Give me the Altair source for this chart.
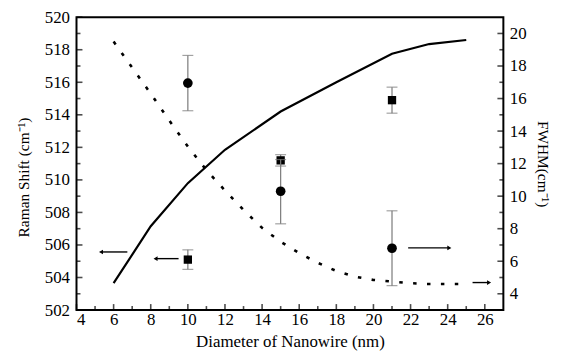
import altair as alt
import pandas as pd

# ---- data ----
x_solid = [6, 8, 10, 12, 15, 18, 21, 23, 25]
raman_solid = [503.65, 507.15, 509.8, 511.85, 514.2, 516.0, 517.75, 518.35, 518.6]

x_dash = [6, 7, 8, 9, 10, 11, 12, 13, 14, 15, 16, 17, 18, 19, 20, 21, 22, 23, 24, 25]
fwhm_dash = [19.5, 17.9, 16.3, 14.65, 13.05, 11.6, 10.35, 9.15, 8.05, 7.2,
             6.5, 5.9, 5.4, 5.05, 4.85, 4.75, 4.65, 4.6, 4.6, 4.6]

x_pts = [10, 15, 21]
raman_pts = [505.1, 511.2, 514.9]
raman_lo = [504.5, 510.85, 514.1]
raman_hi = [505.7, 511.55, 515.7]

fwhm_pts = [16.95, 10.3, 6.8]
fwhm_lo = [15.25, 8.3, 4.5]
fwhm_hi = [18.65, 12.25, 9.1]

# annotation arrows (data coordinates): start, head, level
left_arrow_from = [6.74, 9.5]
left_arrow_to = [5.32, 8.26]
left_arrow_y = [505.57, 505.16]
right_arrow_from = [21.87, 25.34]
right_arrow_to = [24.09, 26.23]
right_arrow_y = [6.82, 4.69]

x_ticks = list(range(4, 27, 2))
x_minor = list(range(5, 27, 2))
left_ticks = list(range(502, 521, 2))
left_minor = list(range(503, 520, 2))
right_ticks = list(range(4, 21, 2))
right_minor = list(range(5, 21, 2))

W, H = 430, 295
FONT = "Liberation Serif"

xscale = alt.Scale(domain=[4, 27], nice=False, zero=False)
lscale = alt.Scale(domain=[502, 520], nice=False, zero=False)
rscale = alt.Scale(domain=[3, 21], nice=False, zero=False)

x_axis = alt.Axis(values=x_ticks, title="Diameter of Nanowire (nm)", ticks=False,
                  domain=False, grid=False, labelPadding=2,
                  titleY=37, titleBaseline="alphabetic", titleFontSize=17,
                  labelFont=FONT, titleFont=FONT)
l_axis = alt.Axis(orient="left", values=left_ticks, title="Raman Shift (cm⁻¹)",
                  ticks=False, domain=False, grid=False, labelPadding=7,
                  titleX=-45, titleY=161, titleFontSize=15.5,
                  labelFont=FONT, titleFont=FONT)
r_axis = alt.Axis(orient="right", values=right_ticks, title="FWHM(cm⁻¹)",
                  ticks=False, domain=False, grid=False, labelPadding=6,
                  titleX=31, titleFontSize=15.5,
                  labelFont=FONT, titleFont=FONT)


def X(f):
    return alt.X(f, type="quantitative", scale=xscale, axis=x_axis)


def YL(f):
    return alt.Y(f, type="quantitative", scale=lscale, axis=l_axis)


def YR(f):
    return alt.Y(f, type="quantitative", scale=rscale, axis=r_axis)


solid_df = pd.DataFrame({"x": x_solid, "y": raman_solid})
dash_df = pd.DataFrame({"x": x_dash, "y": fwhm_dash})
sq_df = pd.DataFrame({"x": x_pts, "y": raman_pts, "lo": raman_lo, "hi": raman_hi})
ci_df = pd.DataFrame({"x": x_pts, "y": fwhm_pts, "lo": fwhm_lo, "hi": fwhm_hi})
la_df = pd.DataFrame({"x": left_arrow_from, "x2": left_arrow_to, "y": left_arrow_y})
ra_df = pd.DataFrame({"x": right_arrow_from, "x2": right_arrow_to, "y": right_arrow_y})

ERR = "#7a7a7a"

# ---- left (Raman shift) group ----
solid = alt.Chart(solid_df).mark_line(color="black", strokeWidth=2.2).encode(x=X("x"), y=YL("y"))
sq_bar = alt.Chart(sq_df).mark_rule(color=ERR, strokeWidth=1.2).encode(x=X("x"), y=YL("lo"), y2="hi")
sq_cap_lo = alt.Chart(sq_df).mark_tick(color=ERR, orient="horizontal", size=11, thickness=1.2).encode(x=X("x"), y=YL("lo"))
sq_cap_hi = alt.Chart(sq_df).mark_tick(color=ERR, orient="horizontal", size=11, thickness=1.2).encode(x=X("x"), y=YL("hi"))
squares = alt.Chart(sq_df).mark_point(shape="square", filled=True, color="black", size=70, opacity=1).encode(x=X("x"), y=YL("y"))
la_line = alt.Chart(la_df).mark_rule(color="black", strokeWidth=1.4).encode(x=X("x"), x2="x2", y=YL("y"))
la_head = alt.Chart(la_df).mark_point(shape="triangle-left", filled=True, color="black", size=22, opacity=1).encode(x=X("x2"), y=YL("y"))
lt_major = alt.Chart(pd.DataFrame({"t": left_ticks})).mark_tick(color="black", orient="horizontal", size=6, thickness=1.6).encode(y=YL("t"), x=alt.value(3))
lt_minor = alt.Chart(pd.DataFrame({"t": left_minor})).mark_tick(color="black", orient="horizontal", size=4, thickness=1.6).encode(y=YL("t"), x=alt.value(2))
bt_major = alt.Chart(pd.DataFrame({"t": x_ticks})).mark_tick(color="black", orient="vertical", size=6, thickness=1.6).encode(x=X("t"), y=alt.value(H - 3))
bt_minor = alt.Chart(pd.DataFrame({"t": x_minor})).mark_tick(color="black", orient="vertical", size=4, thickness=1.6).encode(x=X("t"), y=alt.value(H - 2))

left_group = alt.layer(solid, sq_bar, sq_cap_lo, sq_cap_hi, squares, la_line, la_head,
                       lt_major, lt_minor, bt_major, bt_minor)

# ---- right (FWHM) group ----
dash = alt.Chart(dash_df).mark_line(color="black", strokeWidth=2.6, strokeDash=[3.5, 10.5]).encode(x=X("x"), y=YR("y"))
ci_bar = alt.Chart(ci_df).mark_rule(color=ERR, strokeWidth=1.2).encode(x=X("x"), y=YR("lo"), y2="hi")
ci_cap_lo = alt.Chart(ci_df).mark_tick(color=ERR, orient="horizontal", size=11, thickness=1.2).encode(x=X("x"), y=YR("lo"))
ci_cap_hi = alt.Chart(ci_df).mark_tick(color=ERR, orient="horizontal", size=11, thickness=1.2).encode(x=X("x"), y=YR("hi"))
circles = alt.Chart(ci_df).mark_point(shape="circle", filled=True, color="black", size=95, opacity=1).encode(x=X("x"), y=YR("y"))
ra_line = alt.Chart(ra_df).mark_rule(color="black", strokeWidth=1.4).encode(x=X("x"), x2="x2", y=YR("y"))
ra_head = alt.Chart(ra_df).mark_point(shape="triangle-right", filled=True, color="black", size=22, opacity=1).encode(x=X("x2"), y=YR("y"))
rt_major = alt.Chart(pd.DataFrame({"t": right_ticks})).mark_tick(color="black", orient="horizontal", size=6, thickness=1.6).encode(y=YR("t"), x=alt.value(W - 3))
rt_minor = alt.Chart(pd.DataFrame({"t": right_minor})).mark_tick(color="black", orient="horizontal", size=4, thickness=1.6).encode(y=YR("t"), x=alt.value(W - 2))

right_group = alt.layer(dash, ci_bar, ci_cap_lo, ci_cap_hi, circles, ra_line, ra_head,
                        rt_major, rt_minor)

chart = (
    alt.layer(left_group, right_group)
    .resolve_scale(y="independent")
    .properties(
        width=W, height=H,
        padding={"left": 69, "top": 8, "right": 50, "bottom": 41},
        autosize=alt.AutoSizeParams(type="none"),
        background="white",
    )
    .configure(font=FONT)
    .configure_view(stroke="black", strokeWidth=2)
    .configure_axis(labelFont=FONT, titleFont=FONT, labelFontSize=17, titleFontSize=17,
                    labelColor="black", titleColor="black", titleFontWeight="normal")
)

chart.save("out.html", embed_options={"renderer": "svg", "actions": False})
